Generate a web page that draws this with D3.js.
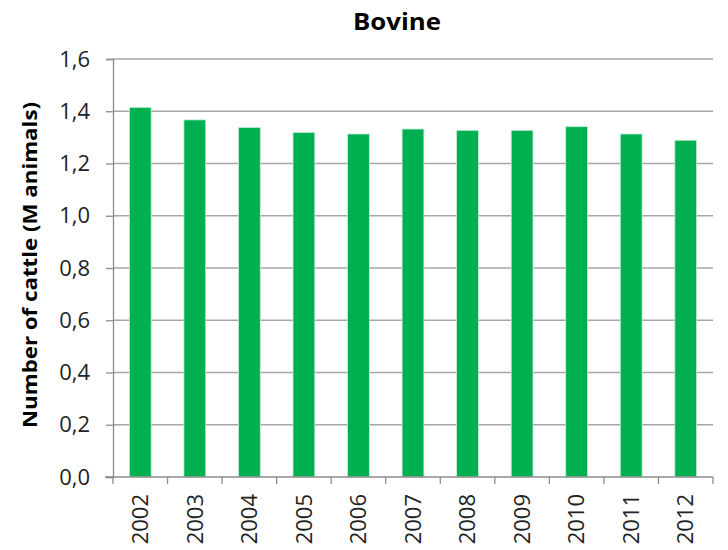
<!DOCTYPE html>
<html><head><meta charset="utf-8">
<script src="https://cdn.jsdelivr.net/npm/d3@7"></script>
<style>body{margin:0;background:#fff}</style>
</head><body>
<svg id="c" width="728" height="550"></svg>
<script>
const years = ["2002","2003","2004","2005","2006","2007","2008","2009","2010","2011","2012"];
const cattle = [1.415,1.367,1.338,1.319,1.313,1.332,1.327,1.327,1.341,1.313,1.289];
const yTicks = [0,0.2,0.4,0.6,0.8,1.0,1.2,1.4,1.6];
const title = "Bovine";
const yTitle = "Number of cattle (M animals)";

(function(){
const svg = d3.select("#c");
const font = "'Open Sans', 'Noto Sans', sans-serif";
const pL = 113, pR = 713, pT = 59, pB = 477;
const x = d3.scaleBand().domain(years).range([pL, pR]).paddingInner(0.6).paddingOuter(0.3);
const y = d3.scaleLinear().domain([0,1.6]).range([pB, pT]);
const fmt = d => d3.format(".1f")(d).replace(".", ",");

// gridlines
svg.append("g").selectAll("line").data(yTicks.slice(1)).join("line")
  .attr("x1", pL).attr("x2", pR).attr("y1", d => y(d)).attr("y2", d => y(d))
  .attr("stroke", "#a6a6a6").attr("stroke-width", 1.3);

// bars
svg.append("g").selectAll("rect").data(years).join("rect")
  .attr("x", (d) => x(d)).attr("width", x.bandwidth())
  .attr("y", (d,i) => y(cattle[i])).attr("height", (d,i) => y(0) - y(cattle[i]))
  .attr("fill", "#00b050").attr("stroke", "#c6eed6").attr("stroke-width", 0.8);

// y axis
const ya = svg.append("g").attr("transform", `translate(${pL},0)`)
  .call(d3.axisLeft(y).tickValues(yTicks).tickFormat(fmt).tickSize(7).tickPadding(16));
ya.select(".domain").attr("stroke", "#8c8c8c").attr("stroke-width", 1.3);
ya.selectAll(".tick line").attr("stroke", "#8c8c8c").attr("stroke-width", 1.3);
ya.selectAll("text").attr("font-family", font).attr("font-size", 22).attr("fill", "#222");

// x axis
const xEdges = years.map((d,i) => pL + i * (pR - pL) / years.length).concat([pR]);
const xa = svg.append("g").attr("transform", `translate(0,${pB})`)
  .call(d3.axisBottom(x).tickSize(0).tickPadding(0));
xa.select(".domain").attr("stroke", "#8c8c8c").attr("stroke-width", 1.3).attr("d", `M${pL-8},0H${pR}`);
xa.selectAll(".tick text")
  .attr("font-family", font).attr("font-size", 22).attr("fill", "#222")
  .attr("transform", "rotate(-90)").attr("text-anchor", "end")
  .attr("x", -17).attr("y", 0).attr("dy", "0.35em");
svg.append("g").selectAll("line").data(xEdges).join("line")
  .attr("x1", d => d).attr("x2", d => d).attr("y1", pB).attr("y2", pB + 7)
  .attr("stroke", "#8c8c8c").attr("stroke-width", 1.3);

// titles
svg.append("text").attr("x", 397).attr("y", 30).attr("text-anchor", "middle")
  .attr("font-family", font).attr("font-weight", "bold").attr("font-size", 23).attr("fill", "#000")
  .attr("textLength", 88).attr("lengthAdjust", "spacingAndGlyphs").text(title);
svg.append("text").attr("transform", `translate(37,265) rotate(-90)`)
  .attr("text-anchor", "middle").attr("font-family", font).attr("font-weight", "bold")
  .attr("font-size", 20).attr("fill", "#000")
  .attr("textLength", 326).attr("lengthAdjust", "spacingAndGlyphs").text(yTitle);
})();
</script>
</body></html>
